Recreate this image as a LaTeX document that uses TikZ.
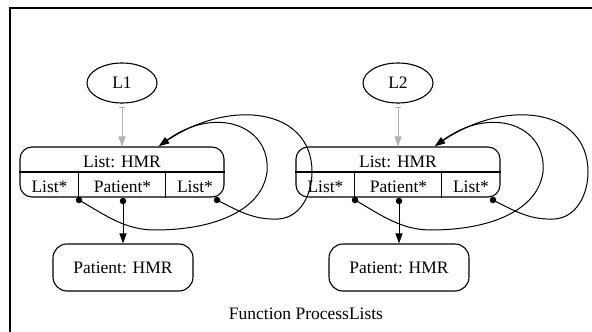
\documentclass[tikz,border=0pt]{standalone}
\usepackage{fontspec}
\setmainfont{Liberation Serif}
\usetikzlibrary{arrows.meta,shapes.geometric,calc}

% One variable, its List record, the record's Patient target and the self loops.
% #1 name suffix, #2 variable name, #3 horizontal offset
\newcommand\drawlistgroup[3]{%
  \begin{scope}[xshift=#3]
    \node[varnode] (var#1) at (122,83) {#2};
    \coordinate (bindstart#1) at (122,107);
    \node[recbox] (rec#1) at (122,172) {};
    \draw[boxline] (rec#1.west) -- (rec#1.east);
    \draw[boxline] ($(rec#1.south west)+(59,0)$) -- ($(rec#1.west)+(59,0)$);
    \draw[boxline] ($(rec#1.south west)+(146,0)$) -- ($(rec#1.west)+(146,0)$);
    \node[lbl, anchor=base] (head#1) at (122,167) {List: HMR};
    \node[lbl, anchor=base] (fa#1) at (49.5,192.5) {List*};
    \node[lbl, anchor=base] (fb#1) at (122.5,192.5) {Patient*};
    \node[lbl, anchor=base] (fc#1) at (195,192.5) {List*};
    \node[patbox] (pat#1) at (123,267.5) {Patient: HMR};
    \node[tail] (da#1) at (79,200) {};
    \node[tail] (db#1) at (123,201) {};
    \node[tail] (dc#1) at (217,200) {};
    \coordinate (hit#1) at (159,146);
    % binding of the variable to its record
    \draw[bind] (bindstart#1) -- (rec#1.north);
    % Patient* field
    \draw[ptr] (db#1.center) -- (pat#1.north);
    % first List* field: inner loop
    \draw[ptr] (da#1.center) .. controls (105,215) and (125,230) .. (155,230)
      .. controls (215,230) and (262,210) .. (267,172)
      .. controls (271,125) and (215,105) .. (hit#1);
    % last List* field: outer loop
    \draw[ptr] (dc#1.center) .. controls (240,212) and (255,220) .. (278,219)
      .. controls (300,218) and (312,195) .. (312,172)
      .. controls (312,108) and (230,98) .. (hit#1);
  \end{scope}%
}

\begin{document}
\begin{tikzpicture}[x=1pt,y=-1pt,
  lbl/.style={font=\fontsize{17.5}{20}\selectfont, inner sep=0pt},
  boxline/.style={line width=1.1pt},
  varnode/.style={ellipse, draw, boxline, minimum width=70pt, minimum height=40pt,
    inner sep=0pt, font=\fontsize{17.5}{20}\selectfont},
  recbox/.style={draw, boxline, rounded corners=12pt, minimum width=204pt,
    minimum height=50pt, inner sep=0pt},
  patbox/.style={draw, boxline, rounded corners=14pt, minimum width=140pt,
    minimum height=47pt, inner sep=0pt, font=\fontsize{17.5}{20}\selectfont},
  tail/.style={circle, fill, inner sep=0pt, minimum size=6.5pt},
  ptr/.style={line width=1pt, -{Triangle[length=10pt,width=7pt]}},
  bind/.style={line width=1pt, draw=gray!60,
    {Bar[width=6pt]}-{Triangle[length=10pt,width=7pt,fill=gray!60]}},
]
  \useasboundingbox (0,0) rectangle (592,332);
  % frame
  \draw[line width=2.2pt] (10,332) -- (10,8) -- (592,8);

  \drawlistgroup{a}{L1}{0pt}
  \drawlistgroup{b}{L2}{276pt}

  \node[lbl, anchor=base] (caption) at (306,319) {Function ProcessLists};
\end{tikzpicture}
\end{document}
